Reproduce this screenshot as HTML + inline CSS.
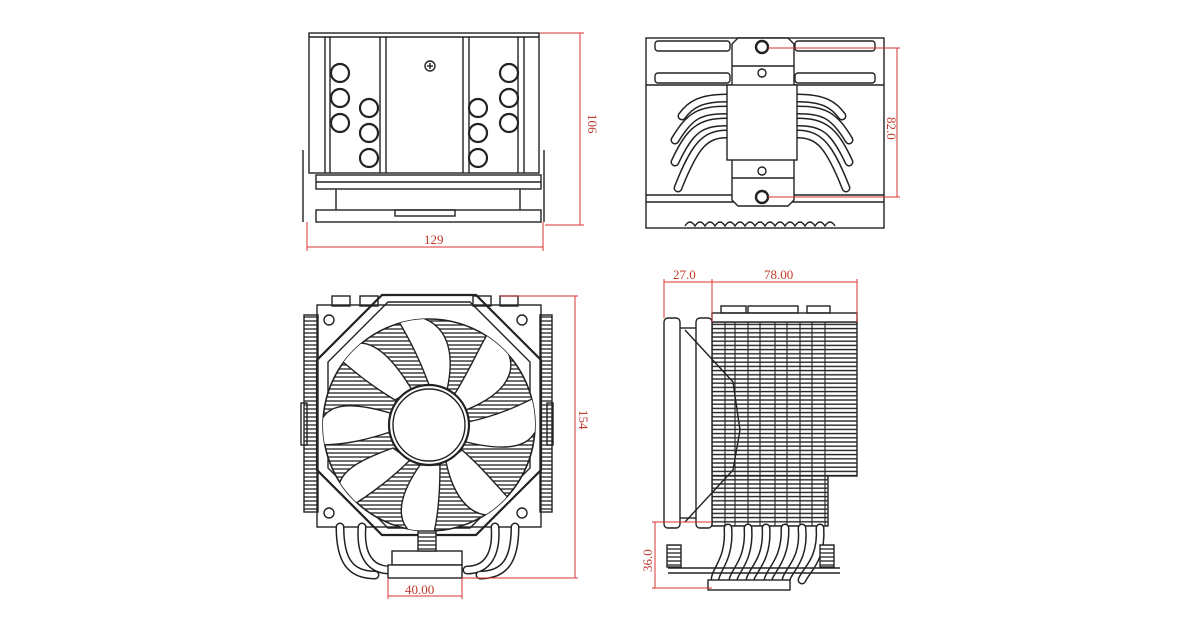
<!DOCTYPE html>
<html><head><meta charset="utf-8"><style>
html,body{margin:0;padding:0;background:#fff;width:1200px;height:630px;overflow:hidden}
svg{display:block}
text{font-family:"Liberation Serif",serif;fill:#c0392b;font-size:13px}
</style></head><body>
<svg width="1200" height="630" viewBox="0 0 1200 630" xmlns="http://www.w3.org/2000/svg">
<defs>
<pattern id="hl" width="8" height="4" patternUnits="userSpaceOnUse"><rect width="8" height="4" fill="#fff"/><line x1="0" y1="1" x2="8" y2="1" stroke="#222" stroke-width="1.3"/></pattern>
<pattern id="hl2" width="8" height="4.2" patternUnits="userSpaceOnUse"><rect width="8" height="4.2" fill="#fff"/><line x1="0" y1="1" x2="8" y2="1" stroke="#222" stroke-width="1.4"/></pattern>
<clipPath id="fanc"><circle cx="429" cy="425" r="106"/></clipPath>
</defs>
<g fill="none" stroke="#222" stroke-width="1.4">
<!-- TOP LEFT VIEW -->
<rect x="309" y="33" width="230" height="140"/>
<line x1="309" y1="37" x2="539" y2="37"/>
<line x1="325" y1="37" x2="325" y2="173"/><line x1="330" y1="37" x2="330" y2="173"/>
<line x1="380" y1="37" x2="380" y2="173"/><line x1="386" y1="37" x2="386" y2="173"/>
<line x1="463" y1="37" x2="463" y2="173"/><line x1="469" y1="37" x2="469" y2="173"/>
<line x1="518" y1="37" x2="518" y2="173"/><line x1="524" y1="37" x2="524" y2="173"/>
<g stroke-width="2.2">
<circle cx="340" cy="73" r="9"/><circle cx="340" cy="98" r="9"/><circle cx="340" cy="123" r="9"/>
<circle cx="369" cy="108" r="9"/><circle cx="369" cy="133" r="9"/><circle cx="369" cy="158" r="9"/>
<circle cx="478" cy="108" r="9"/><circle cx="478" cy="133" r="9"/><circle cx="478" cy="158" r="9"/>
<circle cx="509" cy="73" r="9"/><circle cx="509" cy="98" r="9"/><circle cx="509" cy="123" r="9"/>
</g>
<circle cx="430" cy="66" r="5"/><line x1="427" y1="66" x2="433" y2="66"/><line x1="430" y1="63" x2="430" y2="69"/>
<rect x="316" y="175" width="225" height="14"/><rect x="316" y="210" width="225" height="12"/>
<line x1="316" y1="182" x2="541" y2="182"/><line x1="336" y1="189" x2="336" y2="210"/><line x1="520" y1="189" x2="520" y2="210"/>
<line x1="303" y1="150" x2="303" y2="222"/><line x1="544" y1="150" x2="544" y2="222"/>
<rect x="395" y="210" width="60" height="6"/>
<!-- TOP RIGHT VIEW -->
<rect x="646" y="38" width="238" height="190"/>
<line x1="646" y1="85" x2="884" y2="85"/><line x1="646" y1="195" x2="884" y2="195"/><line x1="646" y1="202" x2="884" y2="202"/>
<rect x="655" y="41" width="75" height="10" rx="3"/><rect x="795" y="41" width="80" height="10" rx="3"/>
<rect x="655" y="73" width="75" height="10" rx="3"/><rect x="795" y="73" width="80" height="10" rx="3"/>
<g stroke-width="9" stroke="#222" stroke-linecap="round"><path d="M727 98 C700 98 690 105 682 116"/><path d="M727 110 C700 110 690 115 675 140"/><path d="M727 122 C700 122 690 130 675 162"/><path d="M727 134 C705 134 695 145 678 188"/><path d="M797 98 C824 98 834 105 842 116"/><path d="M797 110 C824 110 834 115 849 140"/><path d="M797 122 C824 122 834 130 849 162"/><path d="M797 134 C819 134 829 145 846 188"/></g>
<g stroke-width="6" stroke="#fff" stroke-linecap="round"><path d="M727 98 C700 98 690 105 682 116"/><path d="M727 110 C700 110 690 115 675 140"/><path d="M727 122 C700 122 690 130 675 162"/><path d="M727 134 C705 134 695 145 678 188"/><path d="M797 98 C824 98 834 105 842 116"/><path d="M797 110 C824 110 834 115 849 140"/><path d="M797 122 C824 122 834 130 849 162"/><path d="M797 134 C819 134 829 145 846 188"/></g>
<path d="M738 38 h50 l6 6 v156 l-6 6 h-50 l-6 -6 v-156 z" fill="#fff"/>
<rect x="727" y="85" width="70" height="75" fill="#fff"/>
<line x1="732" y1="66" x2="794" y2="66"/><line x1="732" y1="178" x2="794" y2="178"/>
<circle cx="762" cy="47" r="6" stroke-width="2.4"/><circle cx="762" cy="197" r="6" stroke-width="2.4"/>
<circle cx="762" cy="73" r="4"/><circle cx="762" cy="171" r="4"/>
<path d="M685 226 q5 -8 10 0 q5 -8 10 0 q5 -8 10 0 q5 -8 10 0 q5 -8 10 0 q5 -8 10 0 q5 -8 10 0 q5 -8 10 0 q5 -8 10 0 q5 -8 10 0 q5 -8 10 0 q5 -8 10 0 q5 -8 10 0 q5 -8 10 0 q5 -8 10 0"/>
<!-- BOTTOM LEFT VIEW -->
<rect x="304" y="315" width="14" height="197" fill="url(#hl)"/><rect x="540" y="315" width="12" height="197" fill="url(#hl)"/>
<rect x="301" y="403" width="6" height="42"/><rect x="547" y="403" width="6" height="42"/>
<rect x="332" y="296" width="18" height="10"/><rect x="360" y="296" width="18" height="10"/><rect x="473" y="296" width="18" height="10"/><rect x="500" y="296" width="18" height="10"/>
<rect x="317" y="305" width="224" height="222"/>
<path d="M382 305 h94 l65 65 v110 l-65 65 h-94 l-65 -65 v-110 z" transform="translate(0 -10)" stroke-width="2.2"/>
<path d="M388 312 h82 l60 60 v106 l-60 60 h-82 l-60 -60 v-106 z" transform="translate(0 -10)"/>
<circle cx="429" cy="425" r="106" fill="url(#hl)" stroke-width="1.6"/>
<g clip-path="url(#fanc)" fill="#fff" stroke="#222">
<path d="M429 385 C420 360 410 340 395 315 C440 312 458 340 447 390 Z"/>
<path d="M454 395 C470 370 480 345 490 330 C525 360 515 390 466 410 Z"/>
<path d="M468 422 C500 415 520 405 540 395 C545 445 520 455 466 442 Z"/>
<path d="M462 450 C485 470 500 490 515 505 C480 530 455 505 446 462 Z"/>
<path d="M440 465 C440 495 438 520 432 540 C395 535 392 505 420 465 Z"/>
<path d="M410 460 C390 480 370 495 345 510 C328 480 345 465 393 448 Z"/>
<path d="M390 432 C360 442 340 445 318 445 C315 405 340 398 390 413 Z"/>
<path d="M395 400 C370 385 352 370 335 355 C360 330 385 345 412 390 Z"/>
</g>
<circle cx="429" cy="425" r="40" fill="#fff" stroke-width="2.2"/><circle cx="429" cy="425" r="36"/>
<circle cx="329" cy="320" r="5"/><circle cx="522" cy="320" r="5"/><circle cx="329" cy="513" r="5"/><circle cx="522" cy="513" r="5"/>
<g stroke-width="9" stroke-linecap="round"><path d="M340 527 C340 560 350 575 375 575"/><path d="M362 527 C360 555 370 570 390 570"/><path d="M515 527 C515 560 505 575 480 575"/><path d="M495 527 C497 555 487 570 467 570"/></g>
<g stroke-width="6" stroke="#fff" stroke-linecap="round"><path d="M340 527 C340 560 350 575 375 575"/><path d="M362 527 C360 555 370 570 390 570"/><path d="M515 527 C515 560 505 575 480 575"/><path d="M495 527 C497 555 487 570 467 570"/></g>
<rect x="392" y="551" width="70" height="14" fill="#fff"/><rect x="388" y="565" width="74" height="13" fill="#fff"/>
<rect x="418" y="531" width="18" height="20" fill="url(#hl)"/>
<!-- BOTTOM RIGHT VIEW -->
<rect x="712" y="322" width="145" height="154" fill="url(#hl2)"/>
<rect x="712" y="476" width="116" height="50" fill="url(#hl2)"/>
<g stroke-width="1.1"><line x1="725" y1="322" x2="725" y2="526"/><line x1="735" y1="322" x2="735" y2="526"/><line x1="748" y1="322" x2="748" y2="526"/><line x1="760" y1="322" x2="760" y2="526"/><line x1="775" y1="322" x2="775" y2="526"/><line x1="787" y1="322" x2="787" y2="526"/><line x1="800" y1="322" x2="800" y2="526"/><line x1="812" y1="322" x2="812" y2="526"/><line x1="825" y1="322" x2="825" y2="526"/></g>
<rect x="712" y="313" width="145" height="9" fill="#fff"/>
<rect x="721" y="306" width="25" height="7"/><rect x="748" y="306" width="50" height="7"/><rect x="807" y="306" width="23" height="7"/>
<rect x="664" y="318" width="16" height="210" rx="4" fill="#fff"/><rect x="696" y="318" width="16" height="210" rx="4" fill="#fff"/>
<line x1="680" y1="328" x2="696" y2="328"/><line x1="680" y1="518" x2="696" y2="518"/>
<path d="M685 330 L733 382 L740 430 L733 470 L685 522"/>
<g stroke-width="9" stroke-linecap="round"><path d="M728 528 C730 560 715 570 715 580"/><path d="M748 528 C750 560 735 570 733 580"/><path d="M766 528 C768 560 752 570 750 580"/><path d="M785 528 C786 560 770 570 768 580"/><path d="M802 528 C805 560 788 570 786 580"/><path d="M820 528 C822 560 806 570 802 580"/></g>
<g stroke-width="6" stroke="#fff" stroke-linecap="round"><path d="M728 528 C730 560 715 570 715 580"/><path d="M748 528 C750 560 735 570 733 580"/><path d="M766 528 C768 560 752 570 750 580"/><path d="M785 528 C786 560 770 570 768 580"/><path d="M802 528 C805 560 788 570 786 580"/><path d="M820 528 C822 560 806 570 802 580"/></g>
<rect x="708" y="580" width="82" height="10" fill="#fff"/>
<line x1="668" y1="568" x2="840" y2="568"/><line x1="668" y1="573" x2="840" y2="573"/>
<rect x="667" y="545" width="14" height="22" fill="url(#hl)"/><rect x="820" y="545" width="14" height="22" fill="url(#hl)"/>
</g>
<!-- DIMENSIONS (red) -->
<g stroke="#d33" stroke-width="1" fill="none">
<line x1="540" y1="33" x2="584" y2="33"/><line x1="545" y1="225" x2="584" y2="225"/><line x1="580" y1="33" x2="580" y2="225"/>
<line x1="307" y1="222" x2="307" y2="251"/><line x1="543" y1="222" x2="543" y2="251"/><line x1="307" y1="247" x2="543" y2="247"/>
<line x1="768" y1="48" x2="900" y2="48"/><line x1="768" y1="197" x2="900" y2="197"/><line x1="897" y1="48" x2="897" y2="197"/>
<line x1="500" y1="296" x2="578" y2="296"/><line x1="462" y1="578" x2="578" y2="578"/><line x1="575" y1="296" x2="575" y2="578"/>
<line x1="388" y1="578" x2="388" y2="599"/><line x1="462" y1="578" x2="462" y2="599"/><line x1="388" y1="596" x2="462" y2="596"/>
<line x1="664" y1="279" x2="664" y2="318"/><line x1="712" y1="279" x2="712" y2="322"/><line x1="857" y1="279" x2="857" y2="322"/><line x1="664" y1="282" x2="857" y2="282"/>
<line x1="652" y1="522" x2="712" y2="522"/><line x1="652" y1="588" x2="712" y2="588"/><line x1="655" y1="522" x2="655" y2="588"/>
</g>
<text x="424" y="244">129</text>
<text transform="translate(588 114) rotate(90)">106</text>
<text transform="translate(887 117) rotate(90)">82.0</text>
<text transform="translate(579 410) rotate(90)">154</text>
<text x="405" y="594">40.00</text>
<text x="673" y="279">27.0</text>
<text x="764" y="279">78.00</text>
<text transform="translate(652 572) rotate(-90)">36.0</text>
</svg>
</body></html>
